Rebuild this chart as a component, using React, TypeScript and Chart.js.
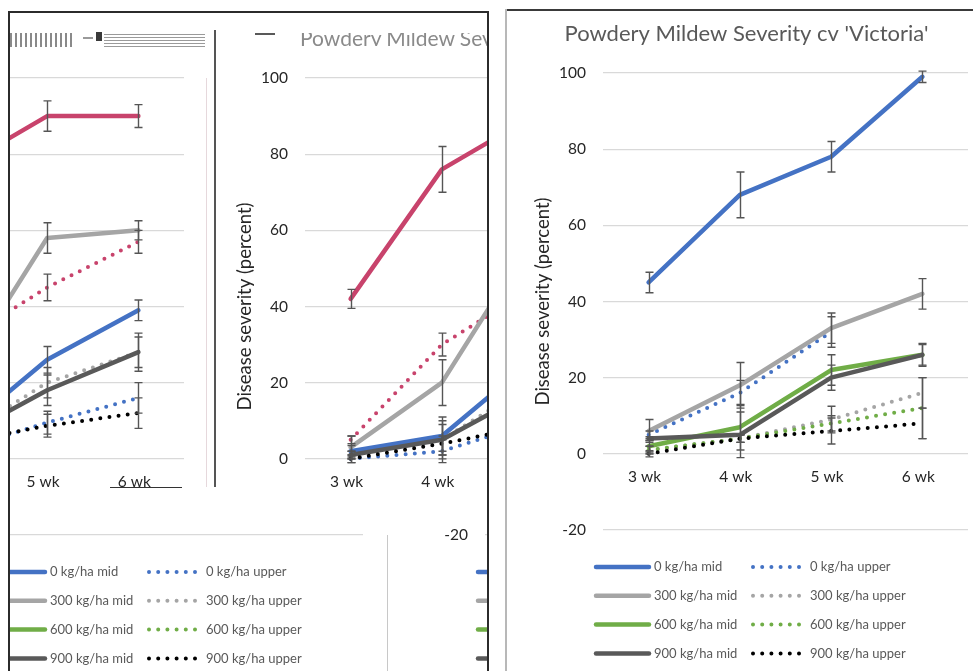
import React, { useEffect, useRef } from 'react';
import { Chart, registerables } from 'chart.js';

Chart.register(...registerables);

// ---------- shared categories / ticks / labels ----------
const weeks = ['3 wk', '4 wk', '5 wk', '6 wk'];
const yTickValues = [-20, 0, 20, 40, 60, 80, 100];
const seriesLabels = [
  '0 kg/ha mid', '0 kg/ha upper',
  '300 kg/ha mid', '300 kg/ha upper',
  '600 kg/ha mid', '600 kg/ha upper',
  '900 kg/ha mid', '900 kg/ha upper',
];
const titleVictoria = "Powdery Mildew Severity cv 'Victoria'";
const yAxisTitle = 'Disease severity (percent)';

// ---------- cv 'Victoria' (right chart) ----------
const vic0Mid = [45, 68, 78, 99];
const vic0MidErr = [2.7, 6, 4, 1.5];
const vic0Upper = [5, 16, 32, null];
const vic0UpperErr = [1, 3.3, 4, null];
const vic300Mid = [6, 18, 33, 42];
const vic300MidErr = [3, 6, 4, 4];
const vic300Upper = [1, 4, 9, 16];
const vic300UpperErr = [1, 1, 3.5, 4];
const vic600Mid = [2, 7, 22, 26];
const vic600MidErr = [1.5, 6, 4, 3];
const vic600Upper = [1, 4, 8, 12];
const vic600UpperErr = [1, 1, 2, 8];
const vic900Mid = [4, 5, 20, 26];
const vic900MidErr = [0.5, 6, 3.3, 2.7];
const vic900Upper = [0, 4, 6, 8];
const vic900UpperErr = [0.8, 1, 3.4, 4];

// ---------- second cultivar (overlapped fragments, left) ----------
const alt0Mid = [42, 76, 90, 90];
const alt0MidErr = [2.5, 6, 4, 3];
const alt0Upper = [5, 30, 45, 57];
const alt0UpperErr = [1, 3, 3.5, 3];
const alt300Mid = [3, 20, 58, 60];
const alt300MidErr = [3, 6, 4, 2.5];
const alt300Upper = [1, 5, 20, 28];
const alt300UpperErr = [1, 4, 4, 4];
const alt600Mid = [2, 6, 26, 39];
const alt600MidErr = [1.5, 5, 3.5, 2.7];
const alt600Upper = [0, 2, 9.5, 16];
const alt600UpperErr = [1, 3, 3, 4];
const alt900Mid = [1, 5, 18, 28];
const alt900MidErr = [1, 5, 4, 5];
const alt900Upper = [0, 4, 8.7, 12];
const alt900UpperErr = [1, 2, 3, 4];

// ---------- colours ----------
const BLUE = '#4472C4';
const LGRAY = '#A5A5A5';
const GREEN = '#70AD47';
const DGRAY = '#595959';
const BLACK = '#000000';
const PINK = '#C8436C';

const FONT = 'Lato, "Noto Sans", sans-serif';

type Series = { label: string; data: (number | null)[]; err: (number | null)[]; color: string; dotted: boolean };

const victoriaSeries: Series[] = [
  { label: seriesLabels[0], data: vic0Mid, err: vic0MidErr, color: BLUE, dotted: false },
  { label: seriesLabels[1], data: vic0Upper, err: vic0UpperErr, color: BLUE, dotted: true },
  { label: seriesLabels[2], data: vic300Mid, err: vic300MidErr, color: LGRAY, dotted: false },
  { label: seriesLabels[3], data: vic300Upper, err: vic300UpperErr, color: LGRAY, dotted: true },
  { label: seriesLabels[4], data: vic600Mid, err: vic600MidErr, color: GREEN, dotted: false },
  { label: seriesLabels[5], data: vic600Upper, err: vic600UpperErr, color: GREEN, dotted: true },
  { label: seriesLabels[6], data: vic900Mid, err: vic900MidErr, color: DGRAY, dotted: false },
  { label: seriesLabels[7], data: vic900Upper, err: vic900UpperErr, color: BLACK, dotted: true },
];

const altSeries: Series[] = [
  { label: seriesLabels[0], data: alt0Mid, err: alt0MidErr, color: PINK, dotted: false },
  { label: seriesLabels[1], data: alt0Upper, err: alt0UpperErr, color: PINK, dotted: true },
  { label: seriesLabels[2], data: alt300Mid, err: alt300MidErr, color: LGRAY, dotted: false },
  { label: seriesLabels[3], data: alt300Upper, err: alt300UpperErr, color: LGRAY, dotted: true },
  { label: seriesLabels[4], data: alt600Mid, err: alt600MidErr, color: BLUE, dotted: false },
  { label: seriesLabels[5], data: alt600Upper, err: alt600UpperErr, color: BLUE, dotted: true },
  { label: seriesLabels[6], data: alt900Mid, err: alt900MidErr, color: DGRAY, dotted: false },
  { label: seriesLabels[7], data: alt900Upper, err: alt900UpperErr, color: BLACK, dotted: true },
];

// ---------- plugins ----------
const errorBarPlugin = {
  id: 'errorBars',
  afterDatasetsDraw(chart: any) {
    const ctx = chart.ctx;
    const ys = chart.scales.y;
    ctx.save();
    ctx.strokeStyle = '#555555';
    ctx.lineWidth = 1.4;
    ctx.setLineDash([]);
    chart.data.datasets.forEach((ds: any, i: number) => {
      const errs = ds.errors;
      if (!errs) return;
      const meta = chart.getDatasetMeta(i);
      meta.data.forEach((pt: any, j: number) => {
        const v = ds.data[j];
        const e = errs[j];
        if (v == null || e == null) return;
        const x = Math.round(pt.x) + 0.5;
        const top = ys.getPixelForValue(v + e);
        const bot = ys.getPixelForValue(v - e);
        ctx.beginPath();
        ctx.moveTo(x, top);
        ctx.lineTo(x, bot);
        ctx.moveTo(x - 4, top);
        ctx.lineTo(x + 4, top);
        ctx.moveTo(x - 4, bot);
        ctx.lineTo(x + 4, bot);
        ctx.stroke();
      });
    });
    ctx.restore();
  },
};

const gridLegendPlugin = {
  id: 'gridLegend',
  afterDraw(chart: any) {
    const ctx = chart.ctx;
    const area = chart.chartArea;
    ctx.save();
    ctx.font = `13px ${FONT}`;
    ctx.fillStyle = '#595959';
    ctx.textBaseline = 'middle';
    ctx.textAlign = 'left';
    chart.data.datasets.forEach((ds: any, i: number) => {
      const row = Math.floor(i / 2);
      const col = i % 2;
      const y = area.bottom + 37 + row * 28.8;
      const x0 = col === 0 ? 91 : 248;
      const x1 = col === 0 ? 144 : 294.5;
      ctx.strokeStyle = ds.borderColor;
      ctx.lineWidth = ds.borderWidth;
      ctx.lineCap = 'round';
      ctx.setLineDash(ds.dotted ? [0, 9.2] : []);
      ctx.beginPath();
      ctx.moveTo(x0, y);
      ctx.lineTo(x1, y);
      ctx.stroke();
      ctx.setLineDash([]);
      ctx.fillText(ds.label, col === 0 ? 149 : 305, y);
    });
    ctx.restore();
  },
};

function makeConfig(series: Series[], title: string): any {
  return {
    type: 'line',
    data: {
      labels: weeks,
      datasets: series.map((s, i) => ({
        label: s.label,
        data: s.data,
        errors: s.err,
        dotted: s.dotted,
        borderColor: s.color,
        backgroundColor: s.color,
        borderWidth: s.dotted ? 4 : 4.5,
        borderDash: s.dotted ? [0, 9.2] : [],
        borderCapStyle: 'round',
        borderJoinStyle: 'round',
        pointRadius: 0,
        pointHoverRadius: 0,
        tension: 0,
        spanGaps: false,
        order: series.length - i,
      })),
    },
    options: {
      animation: false,
      responsive: false,
      maintainAspectRatio: false,
      events: [],
      layout: { padding: { left: 20, right: 5, top: 0, bottom: 141 } },
      plugins: {
        legend: { display: false },
        tooltip: { enabled: false },
        title: {
          display: true,
          text: title,
          color: '#595959',
          font: { family: FONT, size: 22, weight: 'normal', lineHeight: 1.2 },
          padding: { top: 10.5, bottom: 26.1 },
        },
      },
      scales: {
        x: {
          type: 'category',
          offset: true,
          position: { y: 0 },
          grid: { display: false, drawTicks: false, offset: true },
          border: { display: false },
          ticks: {
            color: '#262626',
            font: { family: FONT, size: 15.5 },
            padding: 14,
            maxRotation: 0,
            autoSkip: false,
            labelOffset: -4,
          },
        },
        y: {
          type: 'linear',
          min: yTickValues[0],
          max: yTickValues[yTickValues.length - 1],
          afterBuildTicks: (scale: any) => {
            scale.ticks = yTickValues.map((v) => ({ value: v }));
          },
          afterFit: (scale: any) => {
            scale.width = 78;
          },
          grid: { color: '#d9d9d9', lineWidth: 1.2, drawTicks: false },
          border: { display: false },
          ticks: {
            color: '#262626',
            font: { family: FONT, size: 15.5 },
            padding: 17,
          },
          title: {
            display: true,
            text: yAxisTitle,
            color: '#262626',
            font: { family: FONT, size: 18.5 },
            padding: { top: 7, bottom: 0 },
          },
        },
      },
    },
    plugins: [errorBarPlugin, gridLegendPlugin],
  };
}

type Rect = { x: number; y: number; w: number; h: number };

function ClippedChart({ clip, at, series, title }: { clip: Rect; at: { x: number; y: number }; series: Series[]; title: string }) {
  const ref = useRef<HTMLCanvasElement>(null);
  useEffect(() => {
    if (!ref.current) return;
    const chart = new Chart(ref.current, makeConfig(series, title));
    return () => chart.destroy();
  }, []);
  return (
    <div style={{ position: 'absolute', left: clip.x, top: clip.y, width: clip.w, height: clip.h, overflow: 'hidden' }}>
      <canvas
        ref={ref}
        width={468}
        height={661}
        style={{ position: 'absolute', left: at.x - clip.x, top: at.y - clip.y, width: 468, height: 661 }}
      />
    </div>
  );
}

function Box({ x, y, w, h, bg }: { x: number; y: number; w: number; h: number; bg: string }) {
  return <div style={{ position: 'absolute', left: x, top: y, width: w, height: h, background: bg }} />;
}

export default function App() {
  return (
    <div style={{ position: 'fixed', left: 0, top: 0, width: 973, height: 671, background: '#fff', overflow: 'hidden' }}>
      {/* left panel: overlapped fragments of another cultivar chart */}
      <ClippedChart clip={{ x: 9, y: 13, w: 196, h: 474 }} at={{ x: -279, y: 15 }} series={altSeries} title="" />
      <ClippedChart clip={{ x: 205, y: 13, w: 282, h: 474 }} at={{ x: 207, y: 15 }} series={altSeries} title="" />
      {/* left panel: overlapped fragments of the Victoria chart (legend area) */}
      <ClippedChart clip={{ x: 9, y: 505, w: 354, h: 166 }} at={{ x: -99, y: 15 }} series={victoriaSeries} title={titleVictoria} />
      <ClippedChart clip={{ x: 387, y: 505, w: 100, h: 166 }} at={{ x: 387, y: 15 }} series={victoriaSeries} title={titleVictoria} />

      {/* garbled title fragments */}
      <div style={{ position: 'absolute', left: 300, top: 33, width: 187, height: 13, overflow: 'hidden' }}>
        <div style={{ position: 'absolute', left: 0, top: -7, whiteSpace: 'nowrap', font: `21px ${FONT}`, color: '#8a8a8a', lineHeight: '24px' }}>
          Powdery Mildew Severity
        </div>
      </div>
      <Box x={255} y={33} w={20} h={1.5} bg="#595959" />
      <Box x={10} y={33} w={62} h={14} bg="repeating-linear-gradient(90deg, #8a8a8a 0 2px, #fff 2px 5px)" />
      <Box x={83} y={37} w={10} h={2} bg="#9a9a9a" />
      <Box x={96} y={32} w={6} h={9} bg="#3a3a3a" />
      <Box x={104} y={34} w={101} h={14} bg="repeating-linear-gradient(180deg, #9a9a9a 0 1px, #fff 1px 3px)" />

      {/* left panel lines */}
      <Box x={205.5} y={78} w={1} h={409} bg="#e6d8dc" />
      <Box x={213.5} y={30} w={2} h={457} bg="#555555" />
      <Box x={110} y={486.5} w={72} h={1} bg="#333333" />
      <Box x={387} y={535} w={1} h={136} bg="#c8c8c8" />

      {/* left panel frame */}
      <Box x={8} y={11} w={481} h={2} bg="#2b2b2b" />
      <Box x={8} y={11} w={2} h={660} bg="#2b2b2b" />
      <Box x={487} y={11} w={2} h={660} bg="#2b2b2b" />

      {/* right chart: cv 'Victoria' */}
      <ClippedChart clip={{ x: 505, y: 10, w: 468, h: 661 }} at={{ x: 505, y: 10 }} series={victoriaSeries} title={titleVictoria} />
      <Box x={505} y={9} w={468} h={2} bg="#3a3a3a" />
      <Box x={505} y={9} w={1.5} h={662} bg="#b8b8b8" />
    </div>
  );
}
